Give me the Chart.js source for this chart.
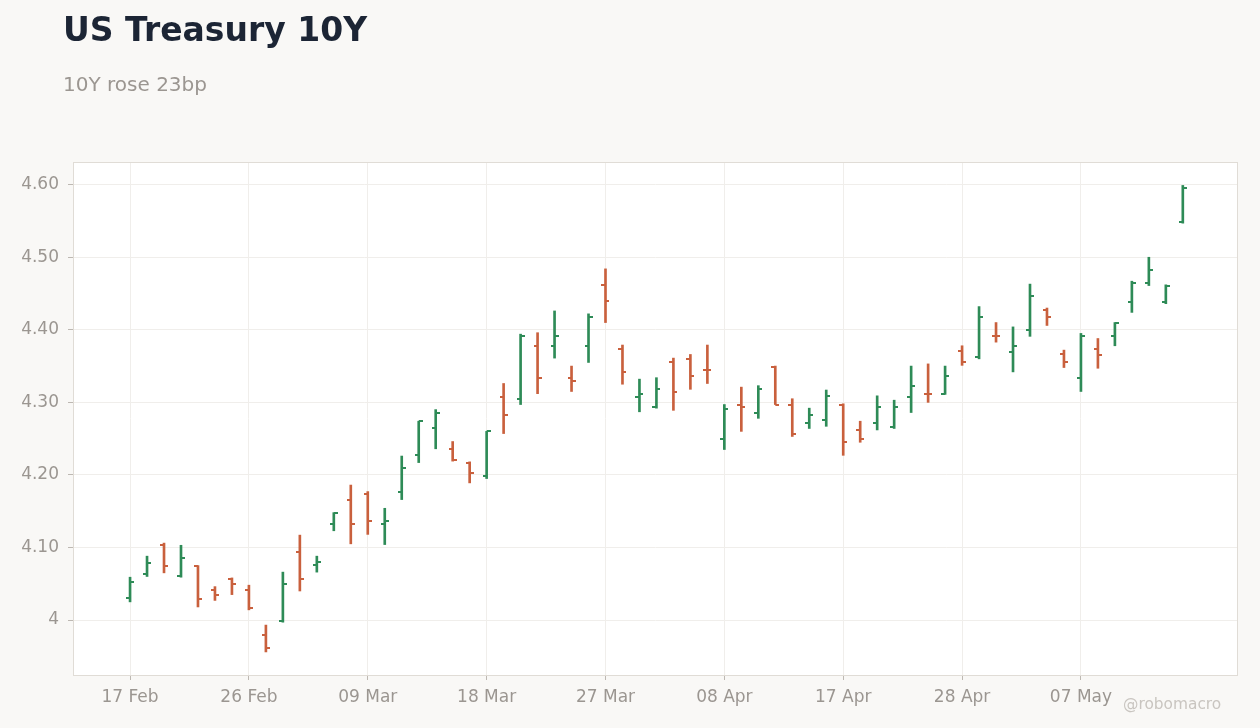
<!DOCTYPE html>
<html>
<head>
<meta charset="utf-8">
<script src="https://cdn.jsdelivr.net/npm/chart.js@4.4.1/dist/chart.umd.min.js"></script>
<style>
  html, body { margin: 0; padding: 0; background: #f9f8f6; }
  body { width: 1260px; height: 728px; position: relative; overflow: hidden; font-family: "DejaVu Sans", sans-serif; }
  #title { position: absolute; left: 63px; top: 13px; font-size: 33px; line-height: 1; font-weight: bold; color: #1c2535; white-space: nowrap; }
  #subtitle { position: absolute; left: 63px; top: 74px; font-size: 20px; line-height: 1; color: #9b9691; white-space: nowrap; }
  #wm { position: absolute; left: 1123px; top: 697px; font-size: 15.4px; line-height: 1; color: #c9c5c0; white-space: nowrap; }
  #wrap { position: absolute; left: 0; top: 0; width: 1260px; height: 728px; }
</style>
</head>
<body>
<div id="wrap"><canvas id="c" width="1260" height="728"></canvas></div>
<div id="title">US Treasury 10Y</div>
<div id="subtitle">10Y rose 23bp</div>
<div id="wm">@robomacro</div>
<script>
// Trading days (2026)
const dates = ['17 Feb','18 Feb','19 Feb','20 Feb','23 Feb','24 Feb','25 Feb','26 Feb','27 Feb',
  '02 Mar','03 Mar','04 Mar','05 Mar','06 Mar','09 Mar','10 Mar','11 Mar','12 Mar','13 Mar',
  '16 Mar','17 Mar','18 Mar','19 Mar','20 Mar','23 Mar','24 Mar','25 Mar','26 Mar','27 Mar',
  '30 Mar','31 Mar','01 Apr','02 Apr','06 Apr','07 Apr','08 Apr','09 Apr','10 Apr',
  '13 Apr','14 Apr','15 Apr','16 Apr','17 Apr','20 Apr','21 Apr','22 Apr','23 Apr','24 Apr',
  '27 Apr','28 Apr','29 Apr','30 Apr','01 May','04 May','05 May','06 May','07 May','08 May',
  '11 May','12 May','13 May','14 May','15 May'];

const openV  = [4.031,4.064,4.104,4.060,4.075,4.042,4.056,4.042,3.980,3.998,4.094,4.076,4.133,4.166,4.173,4.133,
  4.177,4.227,4.264,4.236,4.217,4.198,4.308,4.304,4.377,4.377,4.334,4.378,4.462,4.374,4.308,4.293,
  4.355,4.360,4.345,4.249,4.297,4.286,4.349,4.297,4.272,4.276,4.297,4.262,4.272,4.266,4.307,4.312,
  4.312,4.371,4.362,4.392,4.369,4.400,4.427,4.366,4.334,4.373,4.392,4.438,4.465,4.439,4.548];
const highV  = [4.059,4.088,4.106,4.103,4.075,4.046,4.058,4.048,3.993,4.066,4.117,4.088,4.148,4.186,4.177,4.154,
  4.226,4.274,4.290,4.246,4.218,4.260,4.326,4.394,4.396,4.426,4.350,4.422,4.484,4.379,4.332,4.334,
  4.361,4.366,4.379,4.297,4.321,4.323,4.350,4.305,4.292,4.317,4.298,4.274,4.309,4.303,4.350,4.353,
  4.350,4.378,4.432,4.410,4.404,4.463,4.430,4.372,4.395,4.388,4.410,4.467,4.500,4.462,4.599];
const lowV   = [4.025,4.060,4.065,4.059,4.018,4.027,4.035,4.014,3.956,3.997,4.040,4.066,4.123,4.105,4.118,4.104,
  4.166,4.217,4.236,4.219,4.189,4.195,4.257,4.297,4.312,4.361,4.315,4.355,4.410,4.325,4.287,4.292,
  4.289,4.318,4.326,4.235,4.260,4.278,4.297,4.253,4.264,4.267,4.227,4.245,4.262,4.264,4.286,4.300,
  4.311,4.351,4.360,4.383,4.342,4.391,4.406,4.348,4.315,4.347,4.378,4.424,4.461,4.436,4.547];
const closeV = [4.053,4.079,4.075,4.086,4.029,4.034,4.049,4.017,3.962,4.049,4.056,4.080,4.147,4.133,4.136,4.136,
  4.209,4.274,4.286,4.220,4.202,4.260,4.282,4.391,4.334,4.392,4.329,4.417,4.440,4.342,4.311,4.319,
  4.314,4.336,4.344,4.291,4.293,4.318,4.297,4.257,4.282,4.309,4.246,4.250,4.293,4.294,4.323,4.311,
  4.337,4.355,4.418,4.391,4.378,4.446,4.417,4.356,4.392,4.365,4.410,4.464,4.482,4.461,4.595];

const xTickIdx = [0, 7, 14, 21, 28, 35, 42, 49, 56];
const yTicks = [4, 4.1, 4.2, 4.3, 4.4, 4.5, 4.6];
const yTickLabels = ['4', '4.10', '4.20', '4.30', '4.40', '4.50', '4.60'];

const UP = '#2e8b57';
const DOWN = '#c9603d';

function tickImg(color, side) {
  const c = document.createElement('canvas');
  c.width = 8; c.height = 2;
  const g = c.getContext('2d');
  g.fillStyle = color;
  if (side === 'left') g.fillRect(0, 0, 4, 2); else g.fillRect(4, 0, 4, 2);
  return c;
}
const imgs = {
  openUp: tickImg(UP, 'left'), openDown: tickImg(DOWN, 'left'),
  closeUp: tickImg(UP, 'right'), closeDown: tickImg(DOWN, 'right')
};
const isUp = i => closeV[i] >= openV[i];

const idx = dates.map((d, i) => i);

const plotBg = {
  id: 'plotBg',
  beforeDraw(chart) {
    const { ctx, chartArea: a } = chart;
    ctx.save();
    ctx.fillStyle = '#ffffff';
    ctx.fillRect(a.left, a.top, a.right - a.left, a.bottom - a.top);
    ctx.restore();
  },
  afterDraw(chart) {
    const { ctx, chartArea: a } = chart;
    ctx.save();
    ctx.strokeStyle = '#e0dcd6';
    ctx.lineWidth = 1;
    ctx.strokeRect(a.left + 0.5, a.top + 0.5, a.right - a.left - 1, a.bottom - a.top);
    ctx.restore();
  }
};

new Chart(document.getElementById('c'), {
  type: 'bar',
  data: {
    datasets: [
      {
        type: 'bar',
        data: idx.map(i => ({ x: i, y: [lowV[i], highV[i]] })),
        backgroundColor: idx.map(i => isUp(i) ? UP : DOWN),
        barThickness: 2,
        grouped: false,
        borderWidth: 0,
        order: 2
      },
      {
        type: 'line',
        data: idx.map(i => ({ x: i, y: openV[i] })),
        showLine: false,
        pointStyle: ctx => isUp(ctx.dataIndex) ? imgs.openUp : imgs.openDown,
        pointRadius: 4,
        order: 1
      },
      {
        type: 'line',
        data: idx.map(i => ({ x: i, y: closeV[i] })),
        showLine: false,
        pointStyle: ctx => isUp(ctx.dataIndex) ? imgs.closeUp : imgs.closeDown,
        pointRadius: 4,
        order: 1
      }
    ]
  },
  options: {
    responsive: false,
    animation: false,
    layout: { padding: { left: 0, right: 22, top: 162, bottom: 0 } },
    plugins: { legend: { display: false }, tooltip: { enabled: false }, title: { display: false } },
    scales: {
      x: {
        type: 'linear',
        min: -3.36,
        max: 65.25,
        offset: false,
        afterBuildTicks: s => { s.ticks = xTickIdx.map(v => ({ value: v })); },
        afterFit: s => { s.height = 53; },
        ticks: {
          callback: v => dates[v],
          color: '#9b9691',
          font: { family: 'DejaVu Sans', size: 17 },
          padding: 7,
          maxRotation: 0,
          autoSkip: false
        },
        grid: { offset: false, color: '#f0eeeb', tickColor: '#bdb8b2', tickLength: 5, drawTicks: true },
        border: { display: false }
      },
      y: {
        type: 'linear',
        min: 3.9242,
        max: 4.6313,
        afterBuildTicks: s => { s.ticks = yTicks.map(v => ({ value: v })); },
        afterFit: s => { s.width = 73; },
        ticks: {
          callback: (v, i) => yTickLabels[i],
          color: '#9b9691',
          font: { family: 'DejaVu Sans', size: 17 },
          padding: 9
        },
        grid: { color: '#f0eeeb', tickColor: '#bdb8b2', tickLength: 5, drawTicks: true },
        border: { display: false }
      }
    }
  },
  plugins: [plotBg]
});
</script>
</body>
</html>
